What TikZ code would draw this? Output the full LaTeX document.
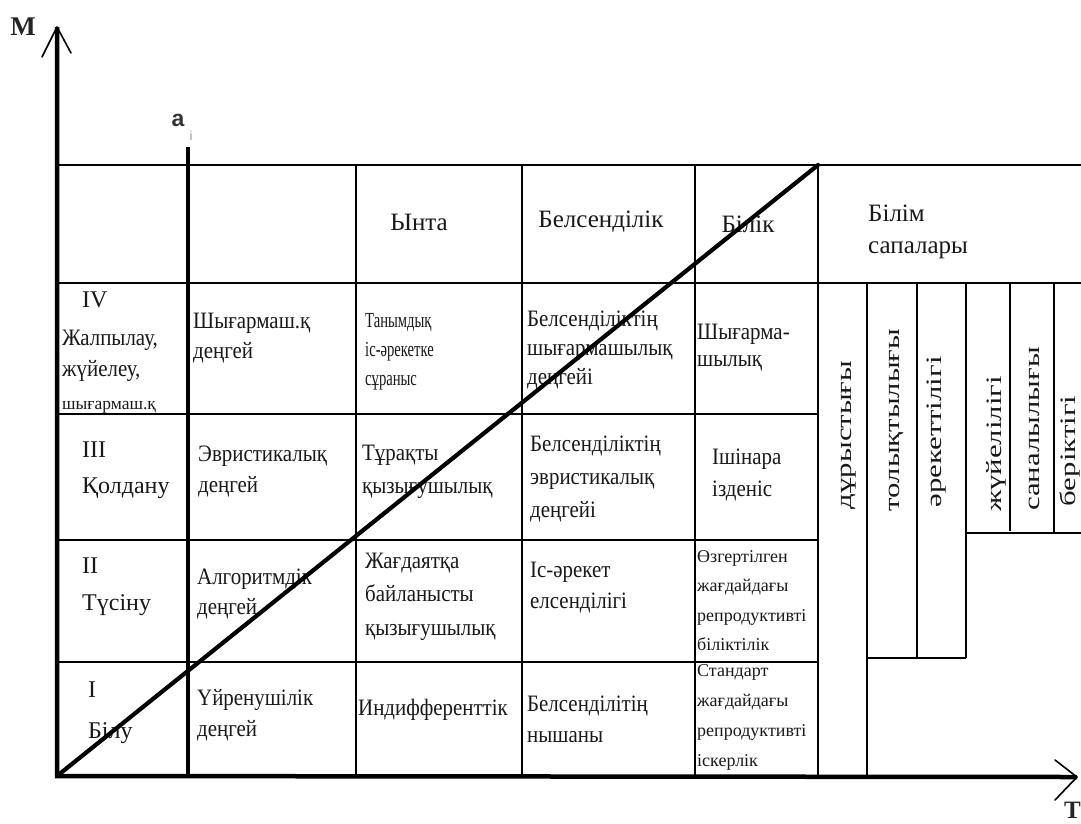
\documentclass[tikz,border=0pt]{standalone}
\usepackage{fontspec}
\setmainfont{Liberation Serif}
\newfontfamily\bodyfont[FakeStretch=0.89]{Liberation Serif}
\newfontfamily\narrowfont[FakeStretch=0.68]{Liberation Serif}
\newfontfamily\sansbold{Liberation Sans}
\newcommand{\fsz}[2]{\fontsize{#1}{#2}\selectfont}
\tikzset{
  axisline/.style={line width=4.5pt, line join=miter},
  diagline/.style={line width=4.2pt, line cap=round},
  gridline/.style={line width=1.8pt},
  subline/.style={line width=1.3pt},
  wingline/.style={line width=1.6pt, line cap=round, line join=round},
  cell/.style={anchor=base west, inner sep=0pt, align=left, text width=#1, text=black!90},
  hcell/.style={anchor=center, inner sep=0pt, text=black!90, font=\fsz{25}{30}},
  vtext/.style={anchor=center, inner sep=0pt, rotate=90, text=black!90, font=\fsz{22}{26}}
}
\begin{document}
\begin{tikzpicture}[x=1pt,y=-1pt]
\useasboundingbox (0,0) rectangle (1081,823);
\fill[white] (0,0) rectangle (1081,823);

% table grid
\draw[gridline] (57,165) -- (1081,165);
\draw[gridline] (57,283) -- (1081,283);
\draw[gridline] (57,414) -- (818,414);
\draw[gridline] (57,540) -- (818,540);
\draw[gridline] (57,662) -- (818,662);
\draw[gridline] (356,165) -- (356,776);
\draw[gridline] (522,165) -- (522,776);
\draw[gridline] (695,165) -- (695,776);
\draw[gridline] (818,165) -- (818,776);
% quality sub-columns
\draw[subline] (867,283) -- (867,776);
\draw[subline] (917,283) -- (917,658);
\draw[subline] (966,283) -- (966,658);
\draw[subline] (867,658) -- (966,658);
\draw[subline] (966,533) -- (1081,533);
\draw[subline] (1010,283) -- (1010,531);
\draw[subline] (1054,283) -- (1054,533);

% header texts
\node[hcell] (hY) at (419,222) {Ынта};
\node[hcell] (hB) at (601,222) {Белсенділік};
\node[hcell] (hBk) at (748,224) {Білік};
\node[cell=200pt, font=\fsz{25}{32}] (hBS) at (868,221) {Білім\\сапалары};

% row IV
\node[cell=40pt, font=\fsz{24}{30}] (r4n) at (82,307) {IV};
\node[cell=120pt, font=\bodyfont\fsz{23.5}{31}] (r4t) at (62,345) {Жалпылау,\\жүйелеу,};
\node[cell=120pt, font=\fsz{17.5}{20}] (r4s) at (62,409) {шығармаш.қ};
\node[cell=160pt, font=\bodyfont\fsz{23.5}{30}] (c4a) at (193,328) {Шығармаш.қ\\деңгей};
\node[cell=160pt, font=\narrowfont\fsz{21.5}{29}] (c4b) at (365,327) {Танымдық\\іс-әрекетке\\сұраныс};
\node[cell=170pt, font=\bodyfont\fsz{23.5}{29}] (c4c) at (527,326) {Белсенділіктің\\шығармашылық\\деңгейі};
\node[cell=120pt, font=\bodyfont\fsz{23.5}{27}] (c4d) at (697,339) {Шығарма-\\шылық};

% row III
\node[cell=120pt, font=\fsz{24}{36}] (r3) at (82,457) {III\\Қолдану};
\node[cell=160pt, font=\bodyfont\fsz{23.5}{31}] (c3a) at (198,461) {Эвристикалық\\деңгей};
\node[cell=160pt, font=\bodyfont\fsz{23.5}{33}] (c3b) at (362,460) {Тұрақты\\қызығушылық};
\node[cell=170pt, font=\bodyfont\fsz{23.5}{33}] (c3c) at (530,451) {Белсенділіктің\\эвристикалық\\деңгейі};
\node[cell=120pt, font=\bodyfont\fsz{23.5}{32}] (c3d) at (712,464) {Ішінара\\ізденіс};

% row II
\node[cell=120pt, font=\fsz{24}{37}] (r2) at (82,573) {II\\Түсіну};
\node[cell=160pt, font=\bodyfont\fsz{23.5}{30}] (c2a) at (197,584) {Алгоритмдік\\деңгей};
\node[cell=160pt, font=\bodyfont\fsz{23.5}{33.5}] (c2b) at (365,568) {Жағдаятқа\\байланысты\\қызығушылық};
\node[cell=170pt, font=\bodyfont\fsz{23.5}{31}] (c2c) at (530,577) {Іс-әрекет\\елсенділігі};
\node[cell=120pt, font=\fsz{18}{29.5}] (c2d) at (697,562) {Өзгертілген\\жағдайдағы\\репродуктивті\\біліктілік};

% row I
\node[cell=120pt, font=\fsz{24}{41}] (r1) at (88,697) {I\\Білу};
\node[cell=160pt, font=\bodyfont\fsz{23.5}{31}] (c1a) at (197,705) {Үйренушілік\\деңгей};
\node[cell=170pt, font=\bodyfont\fsz{23.5}{31}] (c1b) at (358,715) {Индифференттік};
\node[cell=170pt, font=\bodyfont\fsz{23.5}{31}] (c1c) at (527,711) {Белсенділітің\\нышаны};
\node[cell=120pt, font=\fsz{18}{30}] (c1d) at (697,676) {Стандарт\\жағдайдағы\\репродуктивті\\іскерлік};

% quality columns (rotated)
\node[vtext] (q1) at (849,435) {\scalebox{1.4}[1]{дұрыстығы}};
\node[vtext] (q2) at (896,420) {\scalebox{1.4}[1]{толықтылығы}};
\node[vtext] (q3) at (937,432) {\scalebox{1.4}[1]{әрекеттілігі}};
\node[vtext] (q4) at (996,444) {\scalebox{1.4}[1]{жүйелілігі}};
\node[vtext] (q5) at (1034,429) {\scalebox{1.4}[1]{саналылығы}};
\node[vtext] (q6) at (1070,451) {\scalebox{1.4}[1]{беріктігі}};

% axes
\coordinate (O) at (57,776);
\coordinate (Mtip) at (57,27);
\coordinate (Ttip) at (1077,777);
\draw[axisline] (Mtip) -- (O) -- (Ttip);
\draw[wingline] (42,57) -- (Mtip) -- (71,53);
\draw[wingline] (1055,760) -- (Ttip) -- (1055,800);
\node[inner sep=0pt, font=\bfseries\fsz{27}{30}, text=black!85] (Mlab) at (23,27) {M};
\node[anchor=east, inner sep=0pt, font=\bfseries\fsz{25}{30}, text=black!85] (Tlab) at (1081,810) {T};

% a_i line
\coordinate (atop) at (188,147);
\coordinate (abot) at (188,776);
\draw[axisline] (atop) -- (abot);
\node[inner sep=0pt, font=\sansbold\bfseries\fsz{23}{26}, text=black!80] (alab) at (178,120) {a};
\node[inner sep=0pt, font=\sansbold\fsz{13}{15}, text=black!40] (ilab) at (191,136) {i};

% diagonal
\draw[diagline] (O) -- (818,165);
\end{tikzpicture}
\end{document}
